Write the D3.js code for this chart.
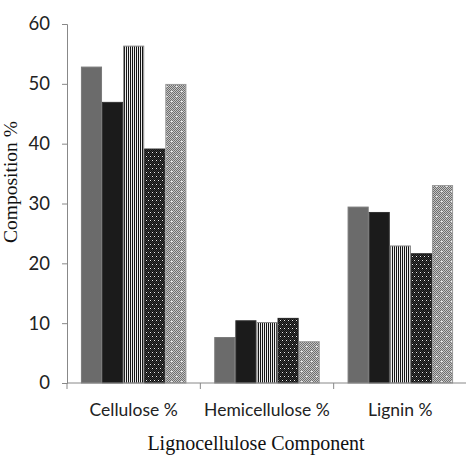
<!DOCTYPE html>
<html><head><meta charset="utf-8">
<script src="https://cdnjs.cloudflare.com/ajax/libs/d3/7.8.5/d3.min.js"></script>
<style>body{margin:0;background:#fff}svg{display:block}</style>
</head><body>
<script>
const categories = ["Cellulose %", "Hemicellulose %", "Lignin %"];
const seriesNames = ["S1", "S2", "S3", "S4", "S5"];
const s1 = [52.8, 7.6, 29.4];
const s2 = [46.9, 10.4, 28.5];
const s3 = [56.3, 10.1, 22.9];
const s4 = [39.1, 10.8, 21.6];
const s5 = [49.9, 6.9, 33.0];
const seriesValues = [s1, s2, s3, s4, s5];
const yTicks = [0, 10, 20, 30, 40, 50, 60];

const W = 466, H = 460;
const m = {left: 67, right: -1, top: 24, bottom: 77};
const svg = d3.select("body").append("svg").attr("width", W).attr("height", H);
const defs = svg.append("defs");

// patterns
const pStripe = defs.append("pattern").attr("id", "stripe").attr("patternUnits", "userSpaceOnUse").attr("width", 2).attr("height", 4);
pStripe.append("rect").attr("width", 2).attr("height", 4).attr("fill", "#eeeeee");
pStripe.append("rect").attr("width", 1).attr("height", 4).attr("fill", "#151515");

const pDark = defs.append("pattern").attr("id", "darkdot").attr("patternUnits", "userSpaceOnUse").attr("width", 8).attr("height", 8);
for (let i = 0; i < 8; i++) for (let j = 0; j < 8; j++)
  pDark.append("rect").attr("x", i).attr("y", j).attr("width", 1).attr("height", 1).attr("fill", (i + j) % 2 === 0 ? "#3a3a3a" : "#0e0e0e");
[[0,0],[4,0],[2,4],[6,4]].forEach(([a,b]) => pDark.append("rect").attr("x", a).attr("y", b).attr("width", 1).attr("height", 1).attr("fill", "#f0f0f0"));

const pLight = defs.append("pattern").attr("id", "lightcheck").attr("patternUnits", "userSpaceOnUse").attr("width", 10).attr("height", 10);
for (let i = 0; i < 10; i++) for (let j = 0; j < 10; j++)
  pLight.append("rect").attr("x", i).attr("y", j).attr("width", 1).attr("height", 1).attr("fill", (i + j) % 2 === 0 ? "#6e6e6e" : "#c4c4c4");
[[1,1],[6,6]].forEach(([a,b]) => pLight.append("rect").attr("x", a).attr("y", b).attr("width", 2).attr("height", 1).attr("fill", "#eaeaea"));

const fills = ["#6b6b6b", "#1b1b1b", "url(#stripe)", "url(#darkdot)", "url(#lightcheck)"];
const strokes = ["#7a7a7a", "#333", "#888", "#222", "#999"];

const x0 = d3.scaleBand().domain(categories).range([m.left, W - m.right]).paddingInner(0).paddingOuter(0);
const x1 = d3.scaleBand().domain(seriesNames).range([0, x0.bandwidth()]).paddingOuter(0.66).paddingInner(0);
const y = d3.scaleLinear().domain([0, 60]).range([H - m.bottom, m.top]);

// bars
const g = svg.append("g");
categories.forEach((c, ci) => {
  seriesValues.forEach((vals, si) => {
    g.append("rect")
      .attr("x", x0(c) + x1(seriesNames[si]) + 0.5)
      .attr("y", y(vals[ci]))
      .attr("width", x1.bandwidth() - 1)
      .attr("height", y(0) - y(vals[ci]))
      .attr("fill", fills[si])
      .attr("stroke", strokes[si])
      .attr("stroke-width", 1);
  });
});

// y axis
const yAxis = svg.append("g").attr("transform", `translate(${m.left},0)`)
  .call(d3.axisLeft(y).tickValues(yTicks).tickSize(5).tickPadding(12).tickFormat(d3.format("d")));
yAxis.select(".domain").attr("stroke", "#888");
yAxis.selectAll(".tick line").attr("stroke", "#888");
yAxis.selectAll("text").attr("font-family", "Lato, 'Open Sans', sans-serif").attr("font-size", 18.5).attr("fill", "#222");

// x axis
const xg = svg.append("g").attr("transform", `translate(0,${y(0)})`);
xg.append("line").attr("x1", m.left).attr("x2", W).attr("y1", 0).attr("y2", 0).attr("stroke", "#888");
const bounds = [m.left, ...categories.slice(1).map(c => x0(c))];
bounds.forEach(b => xg.append("line").attr("x1", b).attr("x2", b).attr("y1", 0).attr("y2", 6).attr("stroke", "#888"));
categories.forEach(c => {
  xg.append("text").attr("x", x0(c) + x0.bandwidth() / 2).attr("y", 33)
    .attr("text-anchor", "middle").attr("font-family", "Lato, 'Open Sans', sans-serif")
    .attr("font-size", 17.5).attr("fill", "#222").text(c);
});

// titles
svg.append("text").attr("x", 256).attr("y", 450).attr("text-anchor", "middle")
  .attr("font-family", "'Liberation Serif', 'Times New Roman', serif").attr("font-size", 20).attr("fill", "#111")
  .text("Lignocellulose Component");
svg.append("text").attr("transform", "translate(17,182) rotate(-90)").attr("text-anchor", "middle")
  .attr("font-family", "'Liberation Serif', 'Times New Roman', serif").attr("font-size", 19.5).attr("fill", "#111")
  .text("Composition %");
</script>
</body></html>
